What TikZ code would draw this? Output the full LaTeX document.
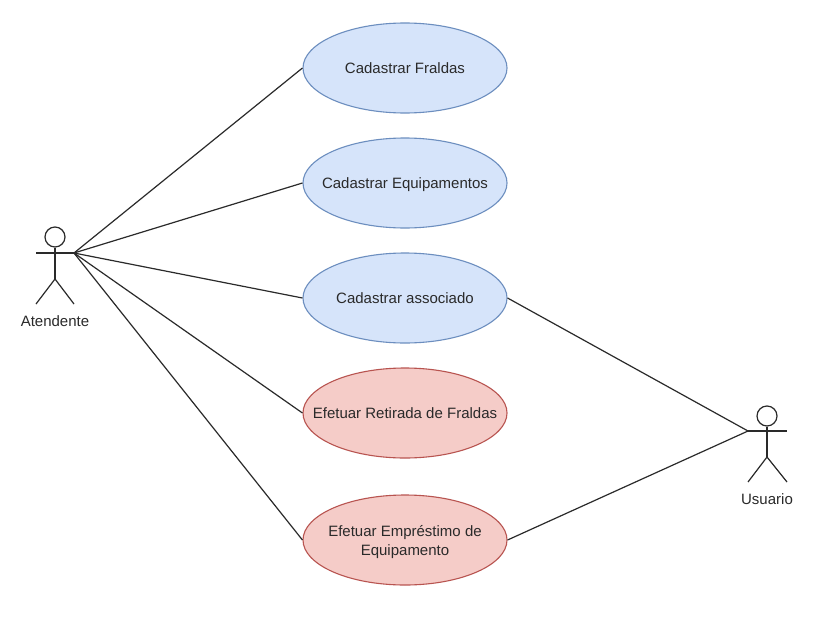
\documentclass[tikz,border=0pt]{standalone}
\usepackage{fontspec}
\setmainfont{Liberation Sans}
\usetikzlibrary{shapes.geometric}
\definecolor{bluefill}{HTML}{D6E4FA}
\definecolor{blueline}{HTML}{6C8EBF}
\definecolor{redfill}{HTML}{F5CCC8}
\definecolor{redline}{HTML}{B85450}
\definecolor{ink}{HTML}{2A2A2A}
\newcommand{\casestrut}{\rule[-3.4pt]{0pt}{17.9pt}}
\tikzset{
  usecase/.style={ellipse,draw,line width=1.1pt,minimum width=204pt,minimum height=90pt,inner xsep=-40pt,inner ysep=-20pt,align=center,text=ink,font=\fontsize{15}{19}\selectfont},
  bluecase/.style={usecase,fill=bluefill,draw=blueline},
  redcase/.style={usecase,fill=redfill,draw=redline},
  actorline/.style={draw=ink,line width=1.2pt},
  link/.style={draw=ink,line width=1.2pt},
  actorlabel/.style={text=ink,inner sep=0pt,font=\fontsize{15}{18}\selectfont},
  actorhead/.style={circle,draw=ink,line width=1.2pt,fill=white,minimum size=20pt,inner sep=0pt}
}
\begin{document}
\begin{tikzpicture}[x=1pt,y=-1pt]
\useasboundingbox (0,0) rectangle (821,618);
\fill[white] (0,0) rectangle (821,618);
% use cases
\node[bluecase] (fraldas) at (405,68) {\casestrut Cadastrar Fraldas};
\node[bluecase] (equip) at (405,183) {\casestrut Cadastrar Equipamentos};
\node[bluecase] (assoc) at (405,298) {\casestrut Cadastrar associado};
\node[redcase] (retirada) at (405,413) {\casestrut Efetuar Retirada de Fraldas};
\node[redcase] (emprestimo) at (405,540) {\casestrut Efetuar Empréstimo de\\\casestrut Equipamento};
% actor Atendente
\node[actorhead] (headA) at (55,237) {};
\coordinate (handLA) at (36,253);
\coordinate (handRA) at (74,253);
\coordinate (hipA) at (55,279);
\coordinate (footLA) at (36,304);
\coordinate (footRA) at (74,304);
\draw[actorline] (headA.south) -- (hipA);
\draw[actorline] (handLA) -- (handRA);
\draw[actorline] (footLA) -- (hipA) -- (footRA);
\node[actorlabel] (labelA) at (55,321) {Atendente};
% actor Usuario
\node[actorhead] (headU) at (767,416) {};
\coordinate (handLU) at (748,431);
\coordinate (handRU) at (787,431);
\coordinate (hipU) at (767,457);
\coordinate (footLU) at (748,482);
\coordinate (footRU) at (787,482);
\draw[actorline] (headU.south) -- (hipU);
\draw[actorline] (handLU) -- (handRU);
\draw[actorline] (footLU) -- (hipU) -- (footRU);
\node[actorlabel] (labelU) at (767,499) {Usuario};
% connectors
\draw[link] (handRA) -- (fraldas.west);
\draw[link] (handRA) -- (equip.west);
\draw[link] (handRA) -- (assoc.west);
\draw[link] (handRA) -- (retirada.west);
\draw[link] (handRA) -- (emprestimo.west);
\draw[link] (assoc.east) -- (handLU);
\draw[link] (emprestimo.east) -- (handLU);
\end{tikzpicture}
\end{document}
